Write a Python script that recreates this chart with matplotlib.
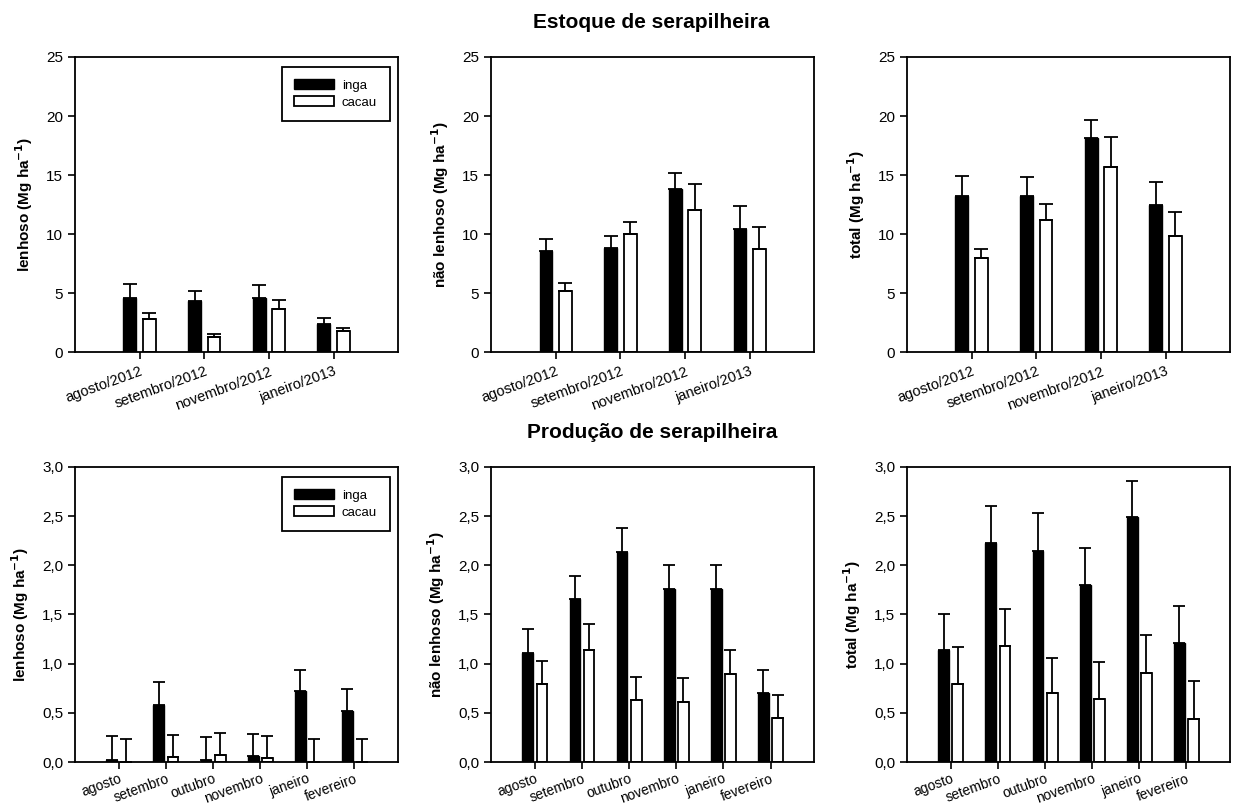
import numpy as np
import matplotlib
matplotlib.use("Agg")
import matplotlib.pyplot as plt

plt.rcParams['font.family'] = ['Liberation Sans', 'DejaVu Sans']

# estoque de serapilheira (Mg ha-1)
meses_estoque = ['agosto/2012', 'setembro/2012', 'novembro/2012', 'janeiro/2013']
est_lenhoso_inga = [4.6, 4.3, 4.6, 2.4]
est_lenhoso_inga_err = [1.2, 0.9, 1.05, 0.5]
est_lenhoso_cacau = [2.8, 1.27, 3.68, 1.78]
est_lenhoso_cacau_err = [0.5, 0.23, 0.75, 0.23]
est_naolenhoso_inga = [8.6, 8.85, 13.8, 10.4]
est_naolenhoso_inga_err = [0.97, 1.0, 1.35, 2.0]
est_naolenhoso_cacau = [5.2, 10.0, 12.0, 8.75]
est_naolenhoso_cacau_err = [0.62, 1.0, 2.25, 1.85]
est_total_inga = [13.2, 13.2, 18.1, 12.45]
est_total_inga_err = [1.7, 1.6, 1.6, 1.95]
est_total_cacau = [7.95, 11.15, 15.7, 9.85]
est_total_cacau_err = [0.77, 1.38, 2.5, 2.03]

# producao de serapilheira (Mg ha-1)
meses_prod = ['agosto', 'setembro', 'outubro', 'novembro', 'janeiro', 'fevereiro']
prod_lenhoso_inga = [0.02, 0.58, 0.02, 0.06, 0.72, 0.52]
prod_lenhoso_inga_err = [0.24, 0.23, 0.23, 0.22, 0.22, 0.225]
prod_lenhoso_cacau = [0.0, 0.05, 0.07, 0.04, 0.0, 0.0]
prod_lenhoso_cacau_err = [0.23, 0.225, 0.22, 0.225, 0.23, 0.23]
prod_naolenhoso_inga = [1.11, 1.655, 2.14, 1.76, 1.76, 0.70]
prod_naolenhoso_inga_err = [0.24, 0.235, 0.24, 0.24, 0.24, 0.24]
prod_naolenhoso_cacau = [0.79, 1.14, 0.63, 0.61, 0.9, 0.45]
prod_naolenhoso_cacau_err = [0.24, 0.26, 0.235, 0.24, 0.24, 0.23]
prod_total_inga = [1.14, 2.23, 2.15, 1.80, 2.49, 1.21]
prod_total_inga_err = [0.37, 0.37, 0.38, 0.38, 0.37, 0.38]
prod_total_cacau = [0.79, 1.18, 0.70, 0.64, 0.91, 0.44]
prod_total_cacau_err = [0.375, 0.375, 0.36, 0.375, 0.38, 0.38]

ylabels = ['lenhoso (Mg ha$^{\\mathbf{-1}}$)', 'não lenhoso (Mg ha$^{\\mathbf{-1}}$)',
           'total (Mg ha$^{\\mathbf{-1}}$)']

fig = plt.figure(figsize=(12.39, 8.05), dpi=100)

lefts = [0.0605, 0.3963, 0.7320]
width = 0.2610


def painel(ax, cats, inga, inga_err, cacau, cacau_err, ylab, ymax, yticks, ytl,
           largura, capsize, xlim, xfs, xpad, legenda=False):
    x = np.arange(1, len(cats) + 1)
    ax.bar(x - 0.15, inga, largura, color='black', edgecolor='black',
           linewidth=1.0, label='inga', zorder=2)
    ax.bar(x + 0.15, cacau, largura, color='white', edgecolor='black',
           linewidth=1.3, label='cacau', zorder=2)
    ax.errorbar(x - 0.15, inga, yerr=[np.zeros(len(inga)), inga_err], fmt='none',
                ecolor='black', elinewidth=1.3, capsize=capsize, capthick=1.3, zorder=3)
    ax.errorbar(x + 0.15, cacau, yerr=[np.zeros(len(cacau)), cacau_err], fmt='none',
                ecolor='black', elinewidth=1.3, capsize=capsize, capthick=1.3, zorder=3)
    ax.set_xlim(*xlim)
    ax.set_ylim(0, ymax)
    ax.set_yticks(yticks)
    ax.set_yticklabels(ytl, fontsize=11)
    ax.set_xticks(x)
    ax.set_xticklabels(cats, rotation=20, ha='right', rotation_mode='anchor', fontsize=xfs)
    ax.tick_params(axis='both', direction='out', length=5, width=1.2, top=False, right=False)
    ax.tick_params(axis='x', pad=xpad)
    for s in ax.spines.values():
        s.set_linewidth(1.3)
    ax.set_ylabel(ylab, fontsize=11, fontweight='bold', labelpad=8)
    if legenda:
        leg = ax.legend(loc='upper right', bbox_to_anchor=(0.973, 0.967), borderaxespad=0,
                        fontsize=9.5, frameon=True, fancybox=False, framealpha=1,
                        edgecolor='black', handlelength=3.0, handleheight=0.75,
                        handletextpad=0.6, labelspacing=0.35, borderpad=0.95)
        leg.get_frame().set_linewidth(1.3)


# linha de cima: estoque
top_data = [
    (est_lenhoso_inga, est_lenhoso_inga_err, est_lenhoso_cacau, est_lenhoso_cacau_err),
    (est_naolenhoso_inga, est_naolenhoso_inga_err, est_naolenhoso_cacau, est_naolenhoso_cacau_err),
    (est_total_inga, est_total_inga_err, est_total_cacau, est_total_cacau_err),
]
for i, d in enumerate(top_data):
    ax = fig.add_axes([lefts[i], 0.5627, width, 0.3665])
    painel(ax, meses_estoque, d[0], d[1], d[2], d[3], ylabels[i], 25,
           [0, 5, 10, 15, 20, 25], ['0', '5', '10', '15', '20', '25'],
           0.2, 5.0, (0, 5), 10.5, 4, legenda=(i == 0))

# linha de baixo: producao
bot_data = [
    (prod_lenhoso_inga, prod_lenhoso_inga_err, prod_lenhoso_cacau, prod_lenhoso_cacau_err),
    (prod_naolenhoso_inga, prod_naolenhoso_inga_err, prod_naolenhoso_cacau, prod_naolenhoso_cacau_err),
    (prod_total_inga, prod_total_inga_err, prod_total_cacau, prod_total_cacau_err),
]
yt = [0, 0.5, 1.0, 1.5, 2.0, 2.5, 3.0]
ytl = [('%.1f' % v).replace('.', ',') for v in yt]
for i, d in enumerate(bot_data):
    ax = fig.add_axes([lefts[i], 0.0534, width, 0.3665])
    painel(ax, meses_prod, d[0], d[1], d[2], d[3], ylabels[i], 3.0, yt, ytl,
           0.23, 4.5, (0.07, 6.93), 10, 2, legenda=(i == 0))

fig.text(0.526, 0.972, 'Estoque de serapilheira', ha='center', va='center',
         fontsize=15, fontweight='bold')
fig.text(0.526, 0.463, 'Produção de serapilheira', ha='center', va='center',
         fontsize=15, fontweight='bold')

fig.savefig('out.png', dpi=100)
